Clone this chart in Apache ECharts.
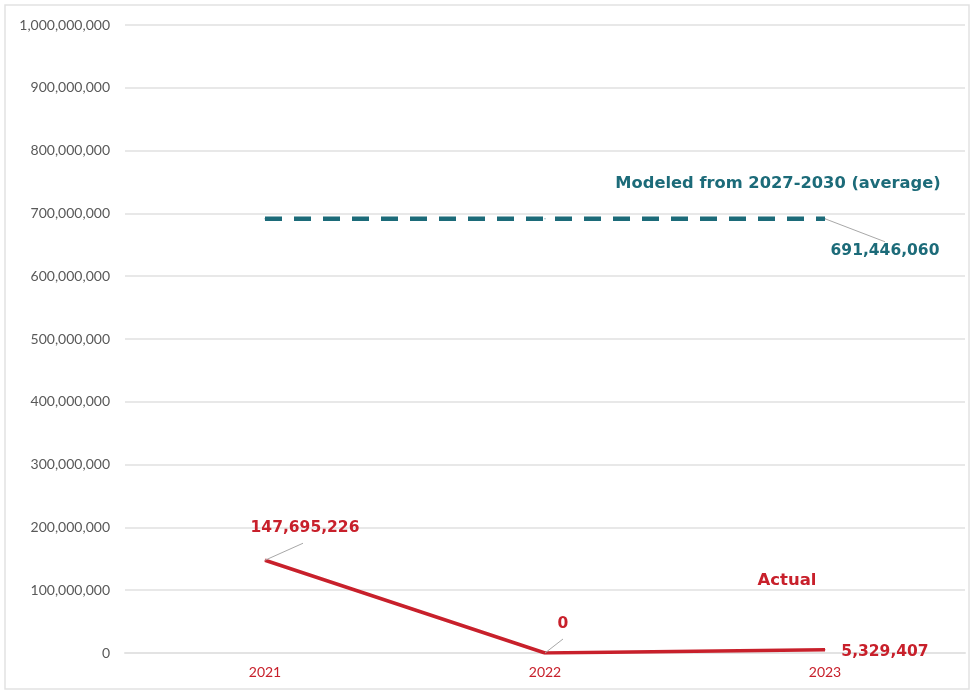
<!DOCTYPE html>
<html>
<head>
<meta charset="utf-8">
<script src="https://cdn.jsdelivr.net/npm/echarts@6/dist/echarts.min.js"></script>
<style>
  html, body { margin: 0; padding: 0; background: #fff; }
  #chart { width: 974px; height: 692px; }
</style>
</head>
<body>
<div id="chart"></div>
<script>
// Years on the category axis
const years = ['2021', '2022', '2023'];
// Reported values
const actual = [147695226, 0, 5329407];
// Modeled 2027-2030 average, drawn as a flat reference across all years
const modeled = [691446060, 691446060, 691446060];
// Value axis ticks
const yTicks = [0, 100000000, 200000000, 300000000, 400000000, 500000000,
                600000000, 700000000, 800000000, 900000000, 1000000000];

const RED = '#c8202b';
const TEAL = '#1c6b79';
const AXIS_FONT = 'Lato, "Open Sans", sans-serif';
const LABEL_FONT = '"DejaVu Sans", Verdana, sans-serif';

const fmt = v => Number(v).toLocaleString('en-US');

// Label placement: offset of the label centre from its point, and where the
// leader line meets the label (relative to the label centre); null = no leader
const actualPlacement = [
  { offset: [40, -32], leader: [-2, 15] },
  { offset: [18, -29], leader: [0, 15] },
  { offset: [60, 2], leader: null }
];
const modeledPlacement = [null, null, { offset: [60, 32], leader: [0, -9] }];

function layoutFor(placement) {
  return function (p) {
    const pl = placement[p.dataIndex];
    if (!pl) return {};
    const px = p.rect.x + p.rect.width / 2;
    const py = p.rect.y + p.rect.height / 2;
    return { x: px + pl.offset[0], y: py + pl.offset[1], align: 'center', verticalAlign: 'middle' };
  };
}

function seriesData(values, placement, color) {
  return values.map((v, i) => ({
    value: v,
    label: {
      show: !!placement[i],
      formatter: p => fmt(p.value),
      color: color, fontFamily: LABEL_FONT, fontWeight: 'bold', fontSize: 15.5
    }
  }));
}

const chart = echarts.init(document.getElementById('chart'), null, { renderer: 'canvas' });

chart.setOption({
  animation: false,
  backgroundColor: '#fff',
  grid: { left: 125, right: 9, top: 25, bottom: 39 },
  xAxis: {
    type: 'category',
    data: years,
    boundaryGap: true,
    axisLine: { show: true, lineStyle: { color: '#e3e3e3', width: 2 } },
    axisTick: { show: false },
    axisLabel: { color: RED, fontFamily: AXIS_FONT, fontSize: 14, margin: 12 }
  },
  yAxis: {
    type: 'value',
    min: yTicks[0],
    max: yTicks[yTicks.length - 1],
    interval: yTicks[1] - yTicks[0],
    axisLine: { show: false },
    axisTick: { show: false },
    splitLine: { lineStyle: { color: '#e8e8e8', width: 2 } },
    axisLabel: { color: '#595959', fontFamily: AXIS_FONT, fontSize: 14, margin: 15, formatter: fmt }
  },
  series: [
    {
      name: 'Modeled',
      type: 'line',
      symbol: 'circle',
      symbolSize: 1,
      itemStyle: { color: TEAL },
      lineStyle: { color: TEAL, width: 4.5, type: [17, 12], cap: 'butt' },
      emphasis: { disabled: true },
      data: seriesData(modeled, modeledPlacement, TEAL),
      labelLayout: layoutFor(modeledPlacement)
    },
    {
      name: 'Actual',
      type: 'line',
      symbol: 'circle',
      symbolSize: 1,
      itemStyle: { color: RED },
      lineStyle: { color: RED, width: 3.5 },
      emphasis: { disabled: true },
      data: seriesData(actual, actualPlacement, RED),
      labelLayout: layoutFor(actualPlacement)
    }
  ]
});

// Leader lines from each data point to its label, placed through the chart's own scales
const leaders = [];
[[modeled, modeledPlacement, 0], [actual, actualPlacement, 1]].forEach(([values, placement, s]) => {
  values.forEach((v, i) => {
    const pl = placement[i];
    if (!pl || !pl.leader) return;
    const [px, py] = chart.convertToPixel({ seriesIndex: s }, [i, v]);
    const ex = px + pl.offset[0] + pl.leader[0];
    const ey = py + pl.offset[1] + pl.leader[1];
    leaders.push({
      type: 'line', silent: true, z: 10,
      shape: { x1: px, y1: py, x2: ex, y2: ey },
      style: { stroke: '#a8a8a8', lineWidth: 1 }
    });
  });
});

chart.setOption({
  graphic: [
    {
      type: 'rect', silent: true, z: -1,
      shape: { x: 5, y: 5, width: 964, height: 684 },
      style: { fill: 'none', stroke: '#e2e2e2', lineWidth: 1.5 }
    },
    {
      type: 'text', silent: true,
      style: { text: 'Modeled from 2027-2030 (average)', x: 778, y: 184, align: 'center', verticalAlign: 'middle',
               fill: TEAL, font: 'bold 16.3px ' + LABEL_FONT }
    },
    {
      type: 'text', silent: true,
      style: { text: 'Actual', x: 787, y: 581, align: 'center', verticalAlign: 'middle',
               fill: RED, font: 'bold 16.5px ' + LABEL_FONT }
    }
  ].concat(leaders)
});
</script>
</body>
</html>
